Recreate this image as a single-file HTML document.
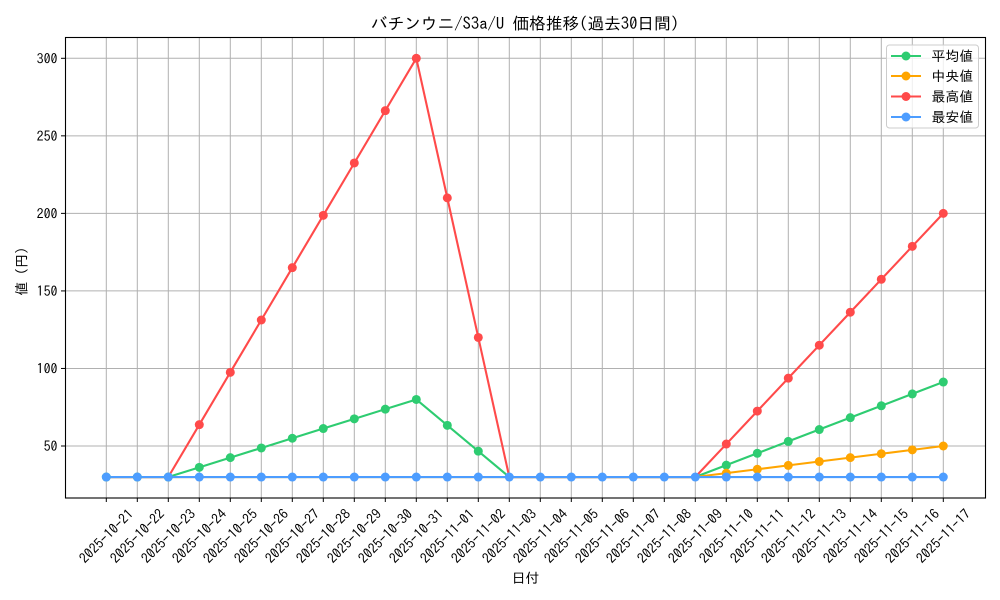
<!DOCTYPE html>
<html><head><meta charset="utf-8"><style>
html,body{margin:0;padding:0;background:#fff;}
svg{display:block;}
text{font-family:"IPAGothic","Noto Sans CJK JP",sans-serif;fill:#000;}
</style></head><body>
<svg width="1000" height="600" viewBox="0 0 1000 600" xmlns="http://www.w3.org/2000/svg">
<rect width="1000" height="600" fill="#fff"/>
<!-- grid -->
<g stroke="#b0b0b0" stroke-width="1">
<line x1="106.3" y1="37" x2="106.3" y2="498"/><line x1="137.3" y1="37" x2="137.3" y2="498"/><line x1="168.3" y1="37" x2="168.3" y2="498"/><line x1="199.3" y1="37" x2="199.3" y2="498"/><line x1="230.3" y1="37" x2="230.3" y2="498"/><line x1="261.3" y1="37" x2="261.3" y2="498"/><line x1="292.3" y1="37" x2="292.3" y2="498"/><line x1="323.3" y1="37" x2="323.3" y2="498"/><line x1="354.3" y1="37" x2="354.3" y2="498"/><line x1="385.3" y1="37" x2="385.3" y2="498"/><line x1="416.3" y1="37" x2="416.3" y2="498"/><line x1="447.3" y1="37" x2="447.3" y2="498"/><line x1="478.3" y1="37" x2="478.3" y2="498"/><line x1="509.3" y1="37" x2="509.3" y2="498"/><line x1="540.3" y1="37" x2="540.3" y2="498"/><line x1="571.3" y1="37" x2="571.3" y2="498"/><line x1="602.3" y1="37" x2="602.3" y2="498"/><line x1="633.3" y1="37" x2="633.3" y2="498"/><line x1="664.3" y1="37" x2="664.3" y2="498"/><line x1="695.3" y1="37" x2="695.3" y2="498"/><line x1="726.3" y1="37" x2="726.3" y2="498"/><line x1="757.3" y1="37" x2="757.3" y2="498"/><line x1="788.3" y1="37" x2="788.3" y2="498"/><line x1="819.3" y1="37" x2="819.3" y2="498"/><line x1="850.3" y1="37" x2="850.3" y2="498"/><line x1="881.3" y1="37" x2="881.3" y2="498"/><line x1="912.3" y1="37" x2="912.3" y2="498"/><line x1="943.3" y1="37" x2="943.3" y2="498"/>
<line x1="65" y1="446" x2="985" y2="446"/><line x1="65" y1="368.46" x2="985" y2="368.46"/><line x1="65" y1="290.92" x2="985" y2="290.92"/><line x1="65" y1="213.38" x2="985" y2="213.38"/><line x1="65" y1="135.84" x2="985" y2="135.84"/><line x1="65" y1="58.3" x2="985" y2="58.3"/>
</g>
<!-- series -->
<g fill="none" stroke-width="2.1" stroke-linejoin="round" stroke-linecap="butt">
<polyline stroke="#2ecc71" points="106.3,477.02 137.3,477.02 168.3,477.02 199.3,467.32 230.3,457.63 261.3,447.94 292.3,438.25 323.3,428.55 354.3,418.86 385.3,409.17 416.3,399.48 447.3,425.33 478.3,451.17 509.3,477.02 540.3,477.02 571.3,477.02 602.3,477.02 633.3,477.02 664.3,477.02 695.3,477.02 726.3,465.14 757.3,453.27 788.3,441.39 819.3,429.53 850.3,417.65 881.3,405.77 912.3,393.91 943.3,382.03"/>
<polyline stroke="#ffa500" points="106.3,477.02 695.3,477.02 726.3,473.14 757.3,469.26 788.3,465.39 819.3,461.51 850.3,457.63 881.3,453.75 912.3,449.88 943.3,446"/>
<polyline stroke="#ff4a4a" points="106.3,477.02 137.3,477.02 168.3,477.02 199.3,424.68 230.3,372.34 261.3,320 292.3,267.66 323.3,215.32 354.3,162.98 385.3,110.64 416.3,58.3 447.3,197.87 478.3,337.44 509.3,477.02 540.3,477.02 571.3,477.02 602.3,477.02 633.3,477.02 664.3,477.02 695.3,477.02 726.3,444.06 757.3,411.11 788.3,378.15 819.3,345.2 850.3,312.24 881.3,279.29 912.3,246.33 943.3,213.38"/>
<polyline stroke="#4d9dff" points="106.3,477.02 943.3,477.02"/>
</g>
<g fill="#2ecc71">
<circle cx="106.3" cy="477.02" r="4.5"/><circle cx="137.3" cy="477.02" r="4.5"/><circle cx="168.3" cy="477.02" r="4.5"/><circle cx="199.3" cy="467.32" r="4.5"/><circle cx="230.3" cy="457.63" r="4.5"/><circle cx="261.3" cy="447.94" r="4.5"/><circle cx="292.3" cy="438.25" r="4.5"/><circle cx="323.3" cy="428.55" r="4.5"/><circle cx="354.3" cy="418.86" r="4.5"/><circle cx="385.3" cy="409.17" r="4.5"/><circle cx="416.3" cy="399.48" r="4.5"/><circle cx="447.3" cy="425.33" r="4.5"/><circle cx="478.3" cy="451.17" r="4.5"/><circle cx="726.3" cy="465.14" r="4.5"/><circle cx="757.3" cy="453.27" r="4.5"/><circle cx="788.3" cy="441.39" r="4.5"/><circle cx="819.3" cy="429.53" r="4.5"/><circle cx="850.3" cy="417.65" r="4.5"/><circle cx="881.3" cy="405.77" r="4.5"/><circle cx="912.3" cy="393.91" r="4.5"/><circle cx="943.3" cy="382.03" r="4.5"/>
</g>
<g fill="#ffa500">
<circle cx="726.3" cy="473.14" r="4.5"/><circle cx="757.3" cy="469.26" r="4.5"/><circle cx="788.3" cy="465.39" r="4.5"/><circle cx="819.3" cy="461.51" r="4.5"/><circle cx="850.3" cy="457.63" r="4.5"/><circle cx="881.3" cy="453.75" r="4.5"/><circle cx="912.3" cy="449.88" r="4.5"/><circle cx="943.3" cy="446" r="4.5"/>
</g>
<g fill="#ff4a4a">
<circle cx="199.3" cy="424.68" r="4.5"/><circle cx="230.3" cy="372.34" r="4.5"/><circle cx="261.3" cy="320" r="4.5"/><circle cx="292.3" cy="267.66" r="4.5"/><circle cx="323.3" cy="215.32" r="4.5"/><circle cx="354.3" cy="162.98" r="4.5"/><circle cx="385.3" cy="110.64" r="4.5"/><circle cx="416.3" cy="58.3" r="4.5"/><circle cx="447.3" cy="197.87" r="4.5"/><circle cx="478.3" cy="337.44" r="4.5"/><circle cx="726.3" cy="444.06" r="4.5"/><circle cx="757.3" cy="411.11" r="4.5"/><circle cx="788.3" cy="378.15" r="4.5"/><circle cx="819.3" cy="345.2" r="4.5"/><circle cx="850.3" cy="312.24" r="4.5"/><circle cx="881.3" cy="279.29" r="4.5"/><circle cx="912.3" cy="246.33" r="4.5"/><circle cx="943.3" cy="213.38" r="4.5"/>
</g>
<g fill="#4d9dff">
<circle cx="106.3" cy="477.02" r="4.5"/><circle cx="137.3" cy="477.02" r="4.5"/><circle cx="168.3" cy="477.02" r="4.5"/><circle cx="199.3" cy="477.02" r="4.5"/><circle cx="230.3" cy="477.02" r="4.5"/><circle cx="261.3" cy="477.02" r="4.5"/><circle cx="292.3" cy="477.02" r="4.5"/><circle cx="323.3" cy="477.02" r="4.5"/><circle cx="354.3" cy="477.02" r="4.5"/><circle cx="385.3" cy="477.02" r="4.5"/><circle cx="416.3" cy="477.02" r="4.5"/><circle cx="447.3" cy="477.02" r="4.5"/><circle cx="478.3" cy="477.02" r="4.5"/><circle cx="509.3" cy="477.02" r="4.5"/><circle cx="540.3" cy="477.02" r="4.5"/><circle cx="571.3" cy="477.02" r="4.5"/><circle cx="602.3" cy="477.02" r="4.5"/><circle cx="633.3" cy="477.02" r="4.5"/><circle cx="664.3" cy="477.02" r="4.5"/><circle cx="695.3" cy="477.02" r="4.5"/><circle cx="726.3" cy="477.02" r="4.5"/><circle cx="757.3" cy="477.02" r="4.5"/><circle cx="788.3" cy="477.02" r="4.5"/><circle cx="819.3" cy="477.02" r="4.5"/><circle cx="850.3" cy="477.02" r="4.5"/><circle cx="881.3" cy="477.02" r="4.5"/><circle cx="912.3" cy="477.02" r="4.5"/><circle cx="943.3" cy="477.02" r="4.5"/>
</g>
<!-- axes frame -->
<rect x="65.5" y="37.5" width="920" height="460.5" fill="none" stroke="#000" stroke-width="1.1"/>
<!-- ticks -->
<g stroke="#000" stroke-width="1">
<line x1="61" y1="446" x2="65" y2="446"/><line x1="61" y1="368.46" x2="65" y2="368.46"/><line x1="61" y1="290.92" x2="65" y2="290.92"/><line x1="61" y1="213.38" x2="65" y2="213.38"/><line x1="61" y1="135.84" x2="65" y2="135.84"/><line x1="61" y1="58.3" x2="65" y2="58.3"/>
<line x1="106.3" y1="498" x2="106.3" y2="502"/><line x1="137.3" y1="498" x2="137.3" y2="502"/><line x1="168.3" y1="498" x2="168.3" y2="502"/><line x1="199.3" y1="498" x2="199.3" y2="502"/><line x1="230.3" y1="498" x2="230.3" y2="502"/><line x1="261.3" y1="498" x2="261.3" y2="502"/><line x1="292.3" y1="498" x2="292.3" y2="502"/><line x1="323.3" y1="498" x2="323.3" y2="502"/><line x1="354.3" y1="498" x2="354.3" y2="502"/><line x1="385.3" y1="498" x2="385.3" y2="502"/><line x1="416.3" y1="498" x2="416.3" y2="502"/><line x1="447.3" y1="498" x2="447.3" y2="502"/><line x1="478.3" y1="498" x2="478.3" y2="502"/><line x1="509.3" y1="498" x2="509.3" y2="502"/><line x1="540.3" y1="498" x2="540.3" y2="502"/><line x1="571.3" y1="498" x2="571.3" y2="502"/><line x1="602.3" y1="498" x2="602.3" y2="502"/><line x1="633.3" y1="498" x2="633.3" y2="502"/><line x1="664.3" y1="498" x2="664.3" y2="502"/><line x1="695.3" y1="498" x2="695.3" y2="502"/><line x1="726.3" y1="498" x2="726.3" y2="502"/><line x1="757.3" y1="498" x2="757.3" y2="502"/><line x1="788.3" y1="498" x2="788.3" y2="502"/><line x1="819.3" y1="498" x2="819.3" y2="502"/><line x1="850.3" y1="498" x2="850.3" y2="502"/><line x1="881.3" y1="498" x2="881.3" y2="502"/><line x1="912.3" y1="498" x2="912.3" y2="502"/><line x1="943.3" y1="498" x2="943.3" y2="502"/>
</g>
<!-- y tick labels -->
<g font-size="13.9" text-anchor="end" dominant-baseline="central">
<text x="57.5" y="446">50</text><text x="57.5" y="368.46">100</text><text x="57.5" y="290.92">150</text><text x="57.5" y="213.38">200</text><text x="57.5" y="135.84">250</text><text x="57.5" y="58.3">300</text>
</g>
<!-- x tick labels -->
<g font-size="13.9" text-anchor="middle" dominant-baseline="central">
<text x="106.3" y="536" transform="rotate(-45 106.3 536)">2025-10-21</text>
<text x="137.3" y="536" transform="rotate(-45 137.3 536)">2025-10-22</text>
<text x="168.3" y="536" transform="rotate(-45 168.3 536)">2025-10-23</text>
<text x="199.3" y="536" transform="rotate(-45 199.3 536)">2025-10-24</text>
<text x="230.3" y="536" transform="rotate(-45 230.3 536)">2025-10-25</text>
<text x="261.3" y="536" transform="rotate(-45 261.3 536)">2025-10-26</text>
<text x="292.3" y="536" transform="rotate(-45 292.3 536)">2025-10-27</text>
<text x="323.3" y="536" transform="rotate(-45 323.3 536)">2025-10-28</text>
<text x="354.3" y="536" transform="rotate(-45 354.3 536)">2025-10-29</text>
<text x="385.3" y="536" transform="rotate(-45 385.3 536)">2025-10-30</text>
<text x="416.3" y="536" transform="rotate(-45 416.3 536)">2025-10-31</text>
<text x="447.3" y="536" transform="rotate(-45 447.3 536)">2025-11-01</text>
<text x="478.3" y="536" transform="rotate(-45 478.3 536)">2025-11-02</text>
<text x="509.3" y="536" transform="rotate(-45 509.3 536)">2025-11-03</text>
<text x="540.3" y="536" transform="rotate(-45 540.3 536)">2025-11-04</text>
<text x="571.3" y="536" transform="rotate(-45 571.3 536)">2025-11-05</text>
<text x="602.3" y="536" transform="rotate(-45 602.3 536)">2025-11-06</text>
<text x="633.3" y="536" transform="rotate(-45 633.3 536)">2025-11-07</text>
<text x="664.3" y="536" transform="rotate(-45 664.3 536)">2025-11-08</text>
<text x="695.3" y="536" transform="rotate(-45 695.3 536)">2025-11-09</text>
<text x="726.3" y="536" transform="rotate(-45 726.3 536)">2025-11-10</text>
<text x="757.3" y="536" transform="rotate(-45 757.3 536)">2025-11-11</text>
<text x="788.3" y="536" transform="rotate(-45 788.3 536)">2025-11-12</text>
<text x="819.3" y="536" transform="rotate(-45 819.3 536)">2025-11-13</text>
<text x="850.3" y="536" transform="rotate(-45 850.3 536)">2025-11-14</text>
<text x="881.3" y="536" transform="rotate(-45 881.3 536)">2025-11-15</text>
<text x="912.3" y="536" transform="rotate(-45 912.3 536)">2025-11-16</text>
<text x="943.3" y="536" transform="rotate(-45 943.3 536)">2025-11-17</text>
</g>
<!-- axis labels & title -->
<text x="525.5" y="578" font-size="13.9" text-anchor="middle" dominant-baseline="central">日付</text>
<text x="21.5" y="268" font-size="13.9" text-anchor="middle" dominant-baseline="central" transform="rotate(-90 21.5 268)">値（円）</text>
<text x="525" y="24" font-size="16.67" text-anchor="middle" dominant-baseline="central">バチンウニ/S3a/U 価格推移(過去30日間)</text>
<!-- legend -->
<rect x="886.5" y="45" width="92" height="83" rx="3" ry="3" fill="#fff" fill-opacity="0.8" stroke="#cccccc" stroke-width="1"/>
<g stroke-width="2.1">
<line x1="891" y1="56" x2="921" y2="56" stroke="#2ecc71"/><circle cx="906" cy="56" r="4.5" fill="#2ecc71"/>
<line x1="891" y1="76" x2="921" y2="76" stroke="#ffa500"/><circle cx="906" cy="76" r="4.5" fill="#ffa500"/>
<line x1="891" y1="96.5" x2="921" y2="96.5" stroke="#ff4a4a"/><circle cx="906" cy="96.5" r="4.5" fill="#ff4a4a"/>
<line x1="891" y1="117" x2="921" y2="117" stroke="#4d9dff"/><circle cx="906" cy="117" r="4.5" fill="#4d9dff"/>
</g>
<g font-size="13.9" dominant-baseline="central">
<text x="931.5" y="56">平均値</text>
<text x="931.5" y="76">中央値</text>
<text x="931.5" y="96.5">最高値</text>
<text x="931.5" y="117">最安値</text>
</g>
</svg>
</body></html>
